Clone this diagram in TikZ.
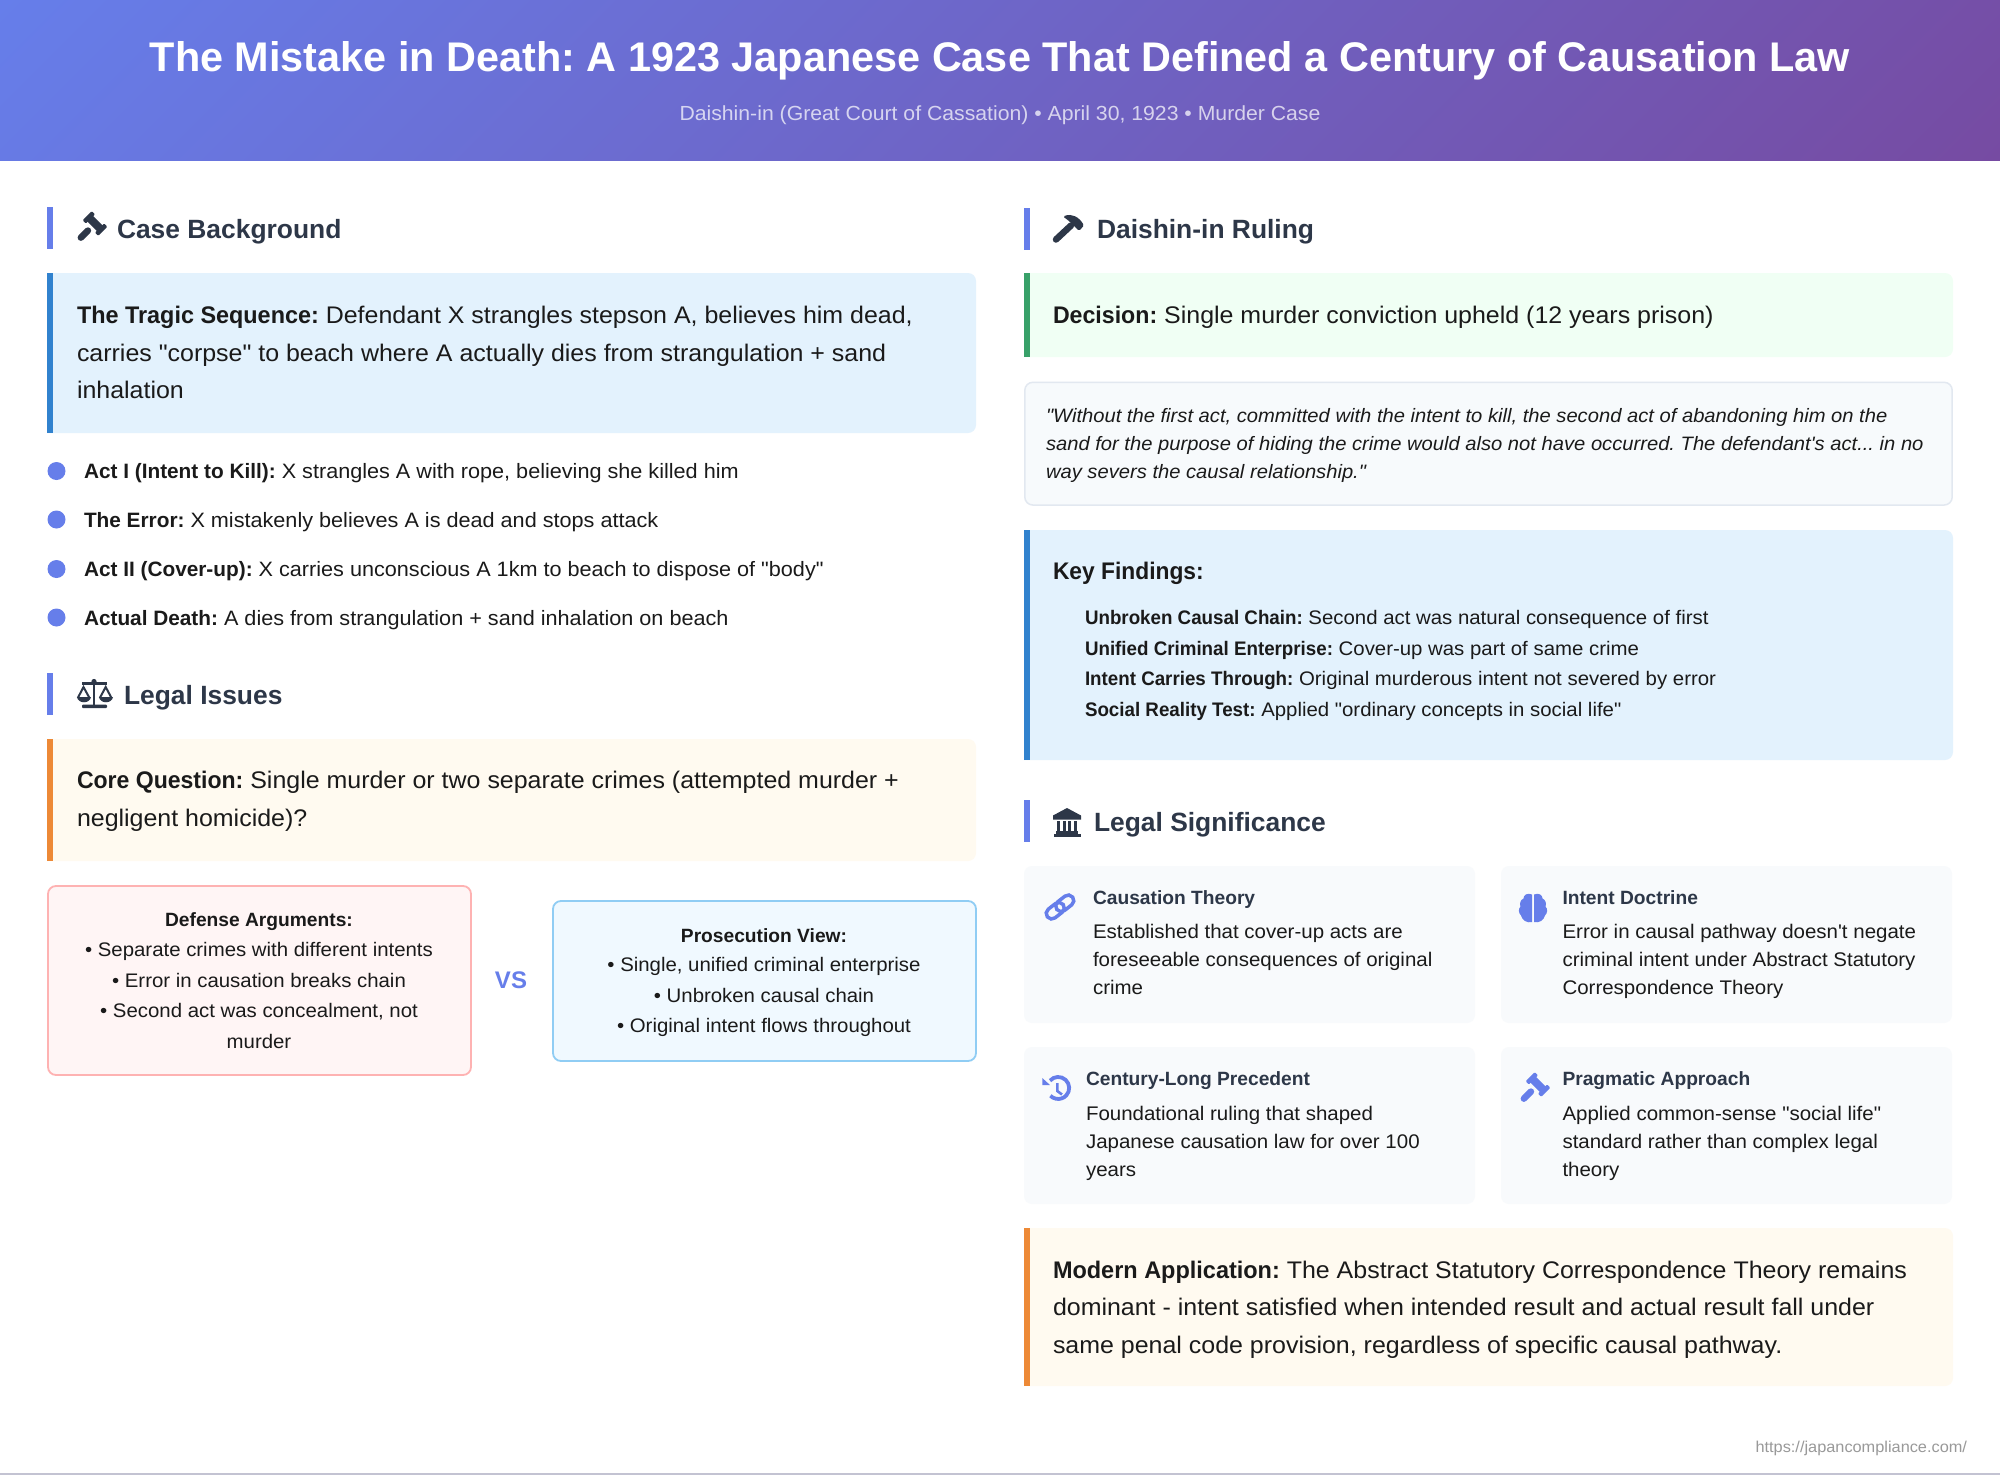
\documentclass[tikz,border=0pt]{standalone}
\usepackage{fontspec}
\setmainfont{Liberation Sans}[Ligatures=TeXOff,FakeStretch=1.04,BoldFeatures={FakeStretch=1.0},ItalicFeatures={FakeStretch=1.04}]
\newfontfamily\plainfam{Liberation Sans}[Ligatures=TeXOff]
\definecolor{acc}{HTML}{667EEA}
\definecolor{acc2}{HTML}{764BA2}
\definecolor{head}{HTML}{2D3748}
\definecolor{ink}{HTML}{1A1A1A}
\definecolor{bluebg}{HTML}{E3F2FD}
\definecolor{bluebd}{HTML}{3182CE}
\definecolor{orbg}{HTML}{FFFAF0}
\definecolor{orbd}{HTML}{ED8936}
\definecolor{grbg}{HTML}{F0FFF4}
\definecolor{grbd}{HTML}{38A169}
\definecolor{redbg}{HTML}{FFF5F5}
\definecolor{redbd}{HTML}{FEB2B2}
\definecolor{skybg}{HTML}{F0F9FF}
\definecolor{skybd}{HTML}{90CDF4}
\definecolor{cardbg}{HTML}{F8FAFC}
\definecolor{quotebd}{HTML}{E2E8F0}
\definecolor{quotebg}{HTML}{F7FAFC}
\newcounter{tc}
\tikzset{txt/.style={anchor=base west,inner sep=0pt,outer sep=0pt,text=ink}}
% \T[opts]{x}{y}{size}{text}
\newcommand\T[5][]{\stepcounter{tc}\node[txt,#1] (t\arabic{tc}) at (#2,#3) {\frenchspacing\fontsize{#4}{#4}\selectfont #5};}
\newcommand\B[2][1]{\scalebox{#1}[1]{\textbf{#2}}}
% left-barred panel
\newcommand\panel[6]{\fill[#5] (#1,#2) [rounded corners=8pt] -- (#3,#2) -- (#3,#4) [sharp corners] -- (#1,#4) -- cycle;
 \fill[#6] (#1,#2) rectangle (#1+6,#4);}
\newcommand\secbar[3]{\fill[acc] (#1,#2) rectangle (#1+6,#3);}
\newcommand\card[4]{\fill[cardbg,rounded corners=8pt] (#1,#2) rectangle (#3,#4);}
\newcommand\gavelicon[3]{\begin{scope}[shift={(#1,#2)},rotate=45]
 \fill[#3] (-4,-10) rectangle (4,10);
 \fill[#3,rounded corners=1pt] (-6.5,-11) rectangle (6.5,-6.5);
 \fill[#3,rounded corners=1pt] (-6.5,6.5) rectangle (6.5,11);
 \draw[#3,line width=6.5pt,line cap=round] (-10,0) -- (-20,0);
\end{scope}}
\begin{document}
\begin{tikzpicture}[x=1pt,y=-1pt]
\useasboundingbox (0,0) rectangle (2000,1475);
\fill[white] (0,0) rectangle (2000,1475);
% header
\begin{scope}
\clip (0,0) rectangle (2000,160.5);
\shade[transform canvas={shift={(1000pt,-80.5pt)},rotate=-45},left color=acc,right color=acc2] (-764,-1600) rectangle (764,1600);
\end{scope}
\T[anchor=base,text=white]{1000}{71}{41.4}{\B{The Mistake in Death: A 1923 Japanese Case That Defined a Century of Causation Law}}
\T[anchor=base,text=white,text opacity=.72]{1000}{120}{20.4}{Daishin-in (Great Court of Cassation) • April 30, 1923 • Murder Case}
% footer
\fill[black!30!blue!10!white!85!black] (0,1473) rectangle (2000,1475);
\T[anchor=base east,text=black!40]{1967}{1452}{15.7}{https://japancompliance.com/}
% LEFT: case background
\secbar{47}{207}{249}
\gavelicon{95}{223.5}{head}
\T[text=head]{117}{238}{26.4}{\B{Case Background}}
\panel{47}{273}{976}{433}{bluebg}{bluebd}
\T{77}{323}{24}{\B[.975]{The Tragic Sequence:} Defendant X strangles stepson A, believes him dead,}
\T{77}{361}{24}{carries "corpse" to beach where A actually dies from strangulation + sand}
\T{77}{398}{24}{inhalation}
\foreach \yy in {471,519.5,569,617.5} \fill[acc] (56.5,\yy) circle[radius=9pt];
\T{84}{478.5}{20.8}{\B{Act I (Intent to Kill):} X strangles A with rope, believing she killed him}
\T{84}{527}{20.8}{\B{The Error:} X mistakenly believes A is dead and stops attack}
\T{84}{576.5}{20.8}{\B{Act II (Cover-up):} X carries unconscious A 1km to beach to dispose of "body"}
\T{84}{625}{20.8}{\B{Actual Death:} A dies from strangulation + sand inhalation on beach}
% legal issues
\secbar{47}{673}{715}
\begin{scope}[head]
 \fill (82,682) rectangle (107,684.5);
 \fill (92.8,681) rectangle (95.2,706);
 \fill (94,681.5) circle[radius=2.6pt];
 \fill[rounded corners=1pt] (82,704.5) rectangle (107,708);
 \draw[line width=2pt] (77.8,698) -- (83.5,687) -- (89.5,698);
 \draw[line width=2pt] (99.8,698) -- (105.7,687) -- (111.5,698);
 \fill (77,697) .. controls (78,704) and (90,704) .. (91,697) -- cycle;
 \fill (99,697) .. controls (100,704) and (112,704) .. (113,697) -- cycle;
\end{scope}
\T[text=head]{124}{704}{26.4}{\B{Legal Issues}}
\panel{47}{739}{976}{861}{orbg}{orbd}
\T{77}{788}{24}{\B[.96]{Core Question:} Single murder or two separate crimes (attempted murder +}
\T{77}{826}{24}{negligent homicide)?}
\fill[redbg,draw=redbd,line width=1.8pt,rounded corners=8pt] (48,886) rectangle (471,1075);
\fill[skybg,draw=skybd,line width=1.8pt,rounded corners=8pt] (553,901) rectangle (976,1061);
\T[anchor=base]{259}{926}{19.2}{\B{Defense Arguments:}}
\T[anchor=base]{259}{956.6}{19.6}{• Separate crimes with different intents}
\T[anchor=base]{259}{987}{19.6}{• Error in causation breaks chain}
\T[anchor=base]{259}{1017.5}{19.6}{• Second act was concealment, not}
\T[anchor=base]{259}{1048}{19.6}{murder}
\T[anchor=base,text=acc]{511}{988}{24}{\B{VS}}
\T[anchor=base]{764}{942}{19.2}{\B{Prosecution View:}}
\T[anchor=base]{764}{971.5}{19.6}{• Single, unified criminal enterprise}
\T[anchor=base]{764}{1002}{19.6}{• Unbroken causal chain}
\T[anchor=base]{764}{1032.5}{19.6}{• Original intent flows throughout}
% RIGHT: ruling
\secbar{1024}{208}{250}
\fill[head,rounded corners=1.5pt] (1063,216.5) .. controls (1072,213) and (1079,217) .. (1084,225.5) -- (1079,231) -- (1074,226) -- (1069,221) -- cycle;
\draw[head,line width=6.5pt,line cap=round] (1071,225.5) -- (1056,239.5);
\T[text=head]{1097}{238}{26.4}{\B{Daishin-in Ruling}}
\panel{1024}{273}{1953}{357}{grbg}{grbd}
\T{1053}{323}{24}{\B[.965]{Decision:} Single murder conviction upheld (12 years prison)}
\fill[quotebg,draw=quotebd,line width=1.5pt,rounded corners=8pt] (1024.8,382.3) rectangle (1952.2,505);
\T{1046}{422}{19.4}{\itshape "Without the first act, committed with the intent to kill, the second act of abandoning him on the}
\T{1046}{450}{19.4}{\itshape sand for the purpose of hiding the crime would also not have occurred. The defendant's act... in no}
\T{1046}{478}{19.4}{\itshape way severs the causal relationship."}
\panel{1024}{530}{1953}{760}{bluebg}{bluebd}
\T{1053}{579}{24}{\B[.95]{Key Findings:}}
\T{1085}{624.5}{19.6}{\B[.957]{Unbroken Causal Chain:} Second act was natural consequence of first}
\T{1085}{655.2}{19.6}{\B[.957]{Unified Criminal Enterprise:} Cover-up was part of same crime}
\T{1085}{685.9}{19.6}{\B[.957]{Intent Carries Through:} Original murderous intent not severed by error}
\T{1085}{716.6}{19.6}{\B[.957]{Social Reality Test:} Applied "ordinary concepts in social life"}
% significance
\secbar{1024}{800}{842}
\begin{scope}[head]
 \fill (1067,808) -- (1081,815.5) -- (1081,819.5) -- (1053,819.5) -- (1053,815.5) -- cycle;
 \foreach \cc in {1057.3,1062.7,1068.3,1074} \fill (\cc,821) rectangle (\cc+2.8,832);
 \fill (1056,831) rectangle (1078,833.5);
 \fill (1054,833.5) rectangle (1081,836.5);
\end{scope}
\T[text=head]{1094}{831}{26.4}{\B{Legal Significance}}
\card{1024}{866}{1475}{1023}
\card{1501}{866}{1952}{1023}
\card{1024}{1047}{1475}{1204}
\card{1501}{1047}{1952}{1204}
\begin{scope}[shift={(1060,907)},rotate=38]
 \draw[acc,line width=3.5pt,rounded corners=5.4pt] (-16,-5.5) rectangle (4,5.5);
 \draw[acc,line width=3.5pt,rounded corners=5.4pt] (-4,-5.5) rectangle (16,5.5);
\end{scope}
\fill[acc] (1532,894.5) .. controls (1527,892.5) and (1523.5,895) .. (1523.5,898.5) .. controls (1520,900) and (1519.5,904) .. (1520.5,906.5) .. controls (1518,909) and (1518.5,913) .. (1521,915.5) .. controls (1522,920) and (1527,923.5) .. (1532,922) -- cycle;
\begin{scope}[xshift=3066pt,xscale=-1]
\fill[acc] (1532,894.5) .. controls (1527,892.5) and (1523.5,895) .. (1523.5,898.5) .. controls (1520,900) and (1519.5,904) .. (1520.5,906.5) .. controls (1518,909) and (1518.5,913) .. (1521,915.5) .. controls (1522,920) and (1527,923.5) .. (1532,922) -- cycle;
\end{scope}
\T[text=head]{1093}{904}{19.2}{\B{Causation Theory}}
\T{1093}{938.5}{19.7}{Established that cover-up acts are}
\T{1093}{966.5}{19.7}{foreseeable consequences of original}
\T{1093}{994.5}{19.7}{crime}
\T[text=head]{1562.5}{904}{19.2}{\B{Intent Doctrine}}
\T{1562.5}{938.5}{19.7}{Error in causal pathway doesn't negate}
\T{1562.5}{966.5}{19.7}{criminal intent under Abstract Statutory}
\T{1562.5}{994.5}{19.7}{Correspondence Theory}
% history icon
\draw[acc,line width=3.8pt] (1050,1080.6) arc[start angle=138,end angle=-135,radius=11pt];
\fill[acc] (1042.3,1078) -- (1042.3,1085) -- (1050,1085) -- cycle;
\draw[acc,line width=2.6pt] (1057.3,1083) -- (1057.3,1091) -- (1062,1094.5);
\T[text=head]{1086}{1085}{19.2}{\B{Century-Long Precedent}}
\T{1086}{1120}{19.7}{Foundational ruling that shaped}
\T{1086}{1148}{19.7}{Japanese causation law for over 100}
\T{1086}{1176}{19.7}{years}
\gavelicon{1538}{1084.5}{acc}
\T[text=head]{1562.5}{1085}{19.2}{\B{Pragmatic Approach}}
\T{1562.5}{1120}{19.7}{Applied common-sense "social life"}
\T{1562.5}{1148}{19.7}{standard rather than complex legal}
\T{1562.5}{1176}{19.7}{theory}
\panel{1024}{1228}{1953}{1386}{orbg}{orbd}
\T{1053}{1278}{24}{\B[.978]{Modern Application:} The Abstract Statutory Correspondence Theory remains}
\T{1053}{1315.5}{24}{dominant - intent satisfied when intended result and actual result fall under}
\T{1053}{1353}{24}{same penal code provision, regardless of specific causal pathway.}
\end{tikzpicture}
\end{document}
